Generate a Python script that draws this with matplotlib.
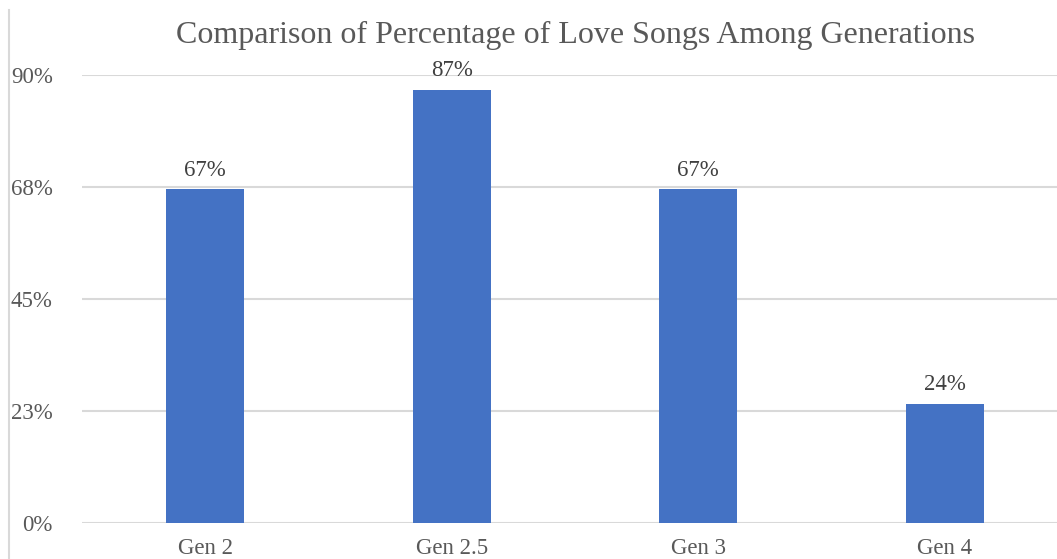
import numpy as np
import matplotlib.pyplot as plt
from matplotlib.lines import Line2D

categories = ['Gen 2', 'Gen 2.5', 'Gen 3', 'Gen 4']
love_pct = [67, 87, 67, 24]
tick_vals = [0, 22.5, 45, 67.5, 90]
tick_labels = ['0%', '23%', '45%', '68%', '90%']

plt.rcParams['font.family'] = ['Liberation Serif', 'DejaVu Serif']

fig = plt.figure(figsize=(10.57, 5.59), dpi=100)
ax = fig.add_axes([82 / 1057, 36 / 559, 986 / 1057, 448 / 559])

x = np.arange(len(categories))
ax.bar(x, love_pct, width=0.317, color='#4472C4', zorder=3)

for xi, v in zip(x, love_pct):
    ax.text(xi, v + 1.8, f'{v}%', ha='center', va='bottom', fontsize=16.5, color='#404040')

ax.set_xlim(-0.5, 3.5)
ax.set_ylim(0, 90)
ax.set_yticks(tick_vals)
ax.set_yticklabels(tick_labels)
ax.set_xticks(x)
ax.set_xticklabels(categories)
ax.tick_params(axis='both', length=0, labelsize=16.5, labelcolor='#595959')
ax.tick_params(axis='y', pad=21)
ax.tick_params(axis='x', pad=11)
ax.grid(axis='y', color='#D9D9D9', linewidth=1.5, zorder=0)
ax.set_axisbelow(True)
for s in ax.spines.values():
    s.set_visible(False)

# title placed by its baseline, centred over the plot area
fig.text(575 / 1057, 1 - 43 / 559, 'Comparison of Percentage of Love Songs Among Generations',
         ha='center', va='baseline', fontsize=23, color='#595959')

# chart border fragment at the left edge
fig.add_artist(Line2D([8.5 / 1057, 8.5 / 1057], [0, 1 - 10 / 559],
                      transform=fig.transFigure, color='#D9D9D9', linewidth=1.5))

fig.savefig('out.png', dpi=100)
